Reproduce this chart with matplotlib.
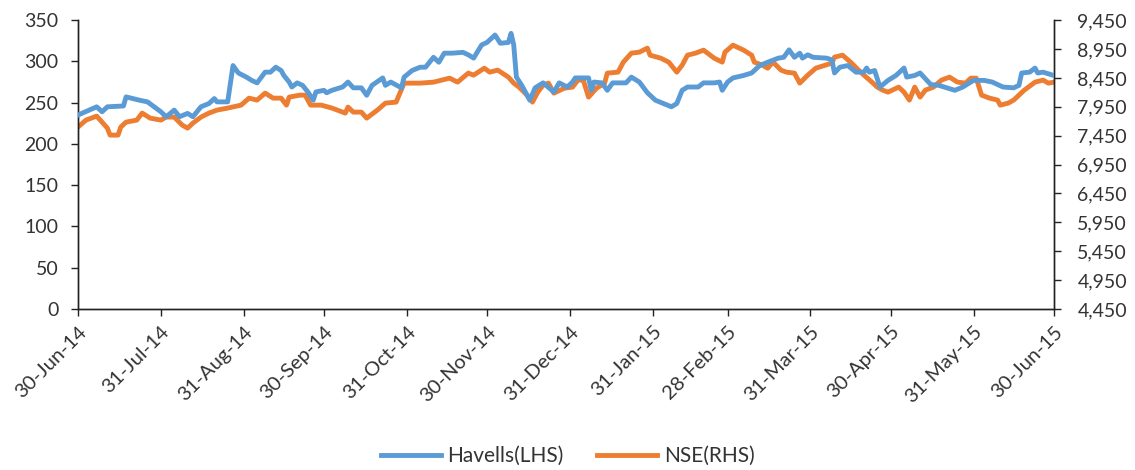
import numpy as np
import pandas as pd
import matplotlib
matplotlib.use("Agg")
import matplotlib.pyplot as plt
from matplotlib.ticker import FuncFormatter

# Havells (LHS)
havells_dates = [
    "2014-06-30", "2014-07-07", "2014-07-09", "2014-07-11", "2014-07-17", "2014-07-18",
    "2014-07-23", "2014-07-26", "2014-07-31", "2014-08-02", "2014-08-05", "2014-08-07",
    "2014-08-10", "2014-08-12", "2014-08-15", "2014-08-18", "2014-08-20", "2014-08-21",
    "2014-08-25", "2014-08-27", "2014-08-29", "2014-09-01", "2014-09-03", "2014-09-05",
    "2014-09-08", "2014-09-10", "2014-09-12", "2014-09-14", "2014-09-15", "2014-09-17",
    "2014-09-18", "2014-09-20", "2014-09-22", "2014-09-24", "2014-09-26", "2014-09-27",
    "2014-09-30", "2014-10-01", "2014-10-03", "2014-10-07", "2014-10-09", "2014-10-11",
    "2014-10-14", "2014-10-16", "2014-10-18", "2014-10-22", "2014-10-23", "2014-10-25",
    "2014-10-29", "2014-10-30", "2014-11-02", "2014-11-05", "2014-11-07", "2014-11-10",
    "2014-11-12", "2014-11-14", "2014-11-17", "2014-11-21", "2014-11-23", "2014-11-25",
    "2014-11-28", "2014-11-30", "2014-12-03", "2014-12-05", "2014-12-08", "2014-12-09",
    "2014-12-10", "2014-12-11", "2014-12-13", "2014-12-16", "2014-12-18", "2014-12-21",
    "2014-12-25", "2014-12-27", "2014-12-30", "2015-01-01", "2015-01-02", "2015-01-07",
    "2015-01-08", "2015-01-09", "2015-01-12", "2015-01-14", "2015-01-16", "2015-01-21",
    "2015-01-23", "2015-01-26", "2015-01-29", "2015-02-01", "2015-02-04", "2015-02-07",
    "2015-02-09", "2015-02-11", "2015-02-13", "2015-02-17", "2015-02-19", "2015-02-23",
    "2015-02-25", "2015-02-26", "2015-02-28", "2015-03-02", "2015-03-06", "2015-03-09",
    "2015-03-12", "2015-03-15", "2015-03-19", "2015-03-21", "2015-03-23", "2015-03-25",
    "2015-03-27", "2015-03-28", "2015-03-30", "2015-04-01", "2015-04-06", "2015-04-08",
    "2015-04-09", "2015-04-11", "2015-04-14", "2015-04-17", "2015-04-20", "2015-04-21",
    "2015-04-22", "2015-04-24", "2015-04-26", "2015-04-29", "2015-05-02", "2015-05-05",
    "2015-05-06", "2015-05-09", "2015-05-11", "2015-05-15", "2015-05-18", "2015-05-21",
    "2015-05-24", "2015-05-27", "2015-05-31", "2015-06-04", "2015-06-07", "2015-06-11",
    "2015-06-15", "2015-06-17", "2015-06-18", "2015-06-21", "2015-06-23", "2015-06-24",
    "2015-06-26", "2015-06-30",
]
havells_vals = [
    235, 245, 239, 245, 246, 257,
    253, 251, 239, 233, 241, 233,
    237, 233, 245, 249, 255, 251,
    251, 295, 286, 281, 277, 274,
    287, 287, 293, 289, 283, 275,
    269, 274, 271, 263, 253, 263,
    265, 262, 265, 269, 275, 268,
    268, 259, 271, 280, 271, 275,
    268, 281, 289, 293, 293, 305,
    299, 310, 310, 311, 308, 304,
    320, 323, 332, 322, 323, 334,
    320, 281, 271, 253, 268, 274,
    263, 274, 269, 275, 280, 280,
    265, 275, 274, 265, 274, 274,
    281, 275, 262, 253, 249, 245,
    249, 265, 269, 269, 274, 274,
    275, 265, 275, 280, 283, 286,
    295, 299, 304, 305, 314, 305,
    310, 304, 308, 305, 304, 302,
    286, 293, 295, 287, 287, 292,
    287, 289, 269, 277, 283, 292,
    281, 283, 286, 272, 271, 268,
    265, 269, 277, 277, 275, 269,
    268, 271, 286, 287, 292, 286,
    287, 283,
]

# NSE (RHS)
nse_dates = [
    "2014-06-30", "2014-07-03", "2014-07-07", "2014-07-09", "2014-07-11", "2014-07-12",
    "2014-07-15", "2014-07-16", "2014-07-18", "2014-07-22", "2014-07-24", "2014-07-27",
    "2014-07-31", "2014-08-02", "2014-08-05", "2014-08-08", "2014-08-10", "2014-08-12",
    "2014-08-15", "2014-08-18", "2014-08-21", "2014-08-25", "2014-08-30", "2014-09-02",
    "2014-09-05", "2014-09-08", "2014-09-11", "2014-09-14", "2014-09-16", "2014-09-17",
    "2014-09-21", "2014-09-23", "2014-09-25", "2014-09-29", "2014-10-03", "2014-10-08",
    "2014-10-09", "2014-10-11", "2014-10-14", "2014-10-16", "2014-10-20", "2014-10-23",
    "2014-10-27", "2014-10-30", "2014-11-05", "2014-11-10", "2014-11-13", "2014-11-16",
    "2014-11-19", "2014-11-23", "2014-11-25", "2014-11-29", "2014-12-01", "2014-12-04",
    "2014-12-08", "2014-12-10", "2014-12-12", "2014-12-15", "2014-12-17", "2014-12-19",
    "2014-12-21", "2014-12-23", "2014-12-25", "2014-12-29", "2015-01-01", "2015-01-03",
    "2015-01-05", "2015-01-07", "2015-01-10", "2015-01-13", "2015-01-14", "2015-01-18",
    "2015-01-20", "2015-01-23", "2015-01-26", "2015-01-29", "2015-01-30", "2015-02-03",
    "2015-02-06", "2015-02-09", "2015-02-11", "2015-02-13", "2015-02-16", "2015-02-19",
    "2015-02-23", "2015-02-26", "2015-02-27", "2015-03-02", "2015-03-06", "2015-03-09",
    "2015-03-10", "2015-03-13", "2015-03-15", "2015-03-17", "2015-03-20", "2015-03-22",
    "2015-03-25", "2015-03-27", "2015-03-30", "2015-04-02", "2015-04-08", "2015-04-09",
    "2015-04-12", "2015-04-15", "2015-04-18", "2015-04-20", "2015-04-23", "2015-04-25",
    "2015-04-27", "2015-04-29", "2015-05-03", "2015-05-05", "2015-05-07", "2015-05-09",
    "2015-05-11", "2015-05-13", "2015-05-16", "2015-05-19", "2015-05-22", "2015-05-25",
    "2015-05-28", "2015-05-30", "2015-06-01", "2015-06-03", "2015-06-06", "2015-06-09",
    "2015-06-10", "2015-06-13", "2015-06-15", "2015-06-19", "2015-06-23", "2015-06-26",
    "2015-06-28", "2015-06-30",
]
nse_vals = [
    7599, 7720, 7789, 7685, 7581, 7460,
    7460, 7599, 7685, 7720, 7841, 7754,
    7720, 7772, 7772, 7633, 7581, 7668,
    7772, 7841, 7893, 7928, 7979, 8100,
    8066, 8187, 8100, 8100, 7979, 8118,
    8152, 8152, 7979, 7979, 7928, 7841,
    7945, 7858, 7858, 7754, 7893, 8014,
    8031, 8360, 8360, 8377, 8412, 8446,
    8377, 8533, 8498, 8619, 8550, 8585,
    8464, 8360, 8291, 8152, 8031, 8204,
    8325, 8360, 8187, 8273, 8291, 8412,
    8412, 8118, 8273, 8360, 8533, 8550,
    8723, 8879, 8896, 8966, 8844, 8792,
    8723, 8550, 8671, 8844, 8879, 8931,
    8792, 8723, 8896, 9017, 8931, 8844,
    8723, 8671, 8619, 8723, 8585, 8550,
    8533, 8360, 8498, 8619, 8706, 8810,
    8844, 8723, 8585, 8498, 8377, 8291,
    8239, 8204, 8291, 8204, 8066, 8291,
    8118, 8239, 8291, 8412, 8464, 8377,
    8360, 8446, 8446, 8152, 8100, 8066,
    7979, 8014, 8066, 8239, 8377, 8412,
    8360, 8377,
]

tick_dates = ["2014-06-30", "2014-07-31", "2014-08-31", "2014-09-30", "2014-10-31",
              "2014-11-30", "2014-12-31", "2015-01-31", "2015-02-28", "2015-03-31",
              "2015-04-30", "2015-05-31", "2015-06-30"]

plt.rcParams["font.family"] = ["Lato", "DejaVu Sans"]
txt = "#333333"

fig = plt.figure(figsize=(11.35, 4.7), dpi=100)
ax = fig.add_axes([0.0687, 0.3426, 0.8597, 0.6145])
ax2 = ax.twinx()

h_line, = ax.plot(pd.to_datetime(havells_dates), havells_vals, color="#5B9BD5", lw=3.5,
                  label="Havells(LHS)", solid_joinstyle="round", zorder=3)
n_line, = ax2.plot(pd.to_datetime(nse_dates), nse_vals, color="#ED7D31", lw=3.5,
                   label="NSE(RHS)", solid_joinstyle="round")
ax.set_zorder(ax2.get_zorder() + 1)
ax.patch.set_visible(False)

ax.set_ylim(0, 350)
ax.set_yticks(np.arange(0, 351, 50))
ax2.set_ylim(4450, 9450)
ax2.set_yticks(np.arange(4450, 9451, 500))
ax2.yaxis.set_major_formatter(FuncFormatter(lambda v, p: f"{int(v):,}"))

ticks = pd.to_datetime(tick_dates)
ax.set_xlim(ticks[0], ticks[-1])
ax.set_xticks(ticks)
ax.set_xticklabels([t.strftime("%d-%b-%y") for t in ticks], rotation=45,
                   ha="right", rotation_mode="anchor", fontsize=14.5, color=txt)

for a in (ax, ax2):
    a.spines["top"].set_visible(False)
    for s in ("left", "right", "bottom"):
        a.spines[s].set_color("#222222")
        a.spines[s].set_linewidth(1.0)
    a.tick_params(axis="y", labelsize=14, labelcolor=txt, length=5, width=1, color="#222222")
ax.tick_params(axis="x", length=5, width=1, color="#222222", pad=5)
ax.tick_params(axis="y", pad=9)
ax2.tick_params(axis="y", pad=12)

fig.legend(handles=[h_line, n_line], loc="center", bbox_to_anchor=(0.5, 0.03),
           ncol=2, frameon=False, fontsize=15, handlelength=2.9, columnspacing=1.6,
           handletextpad=0.3, labelcolor=txt)

fig.savefig("out.png", dpi=100)
